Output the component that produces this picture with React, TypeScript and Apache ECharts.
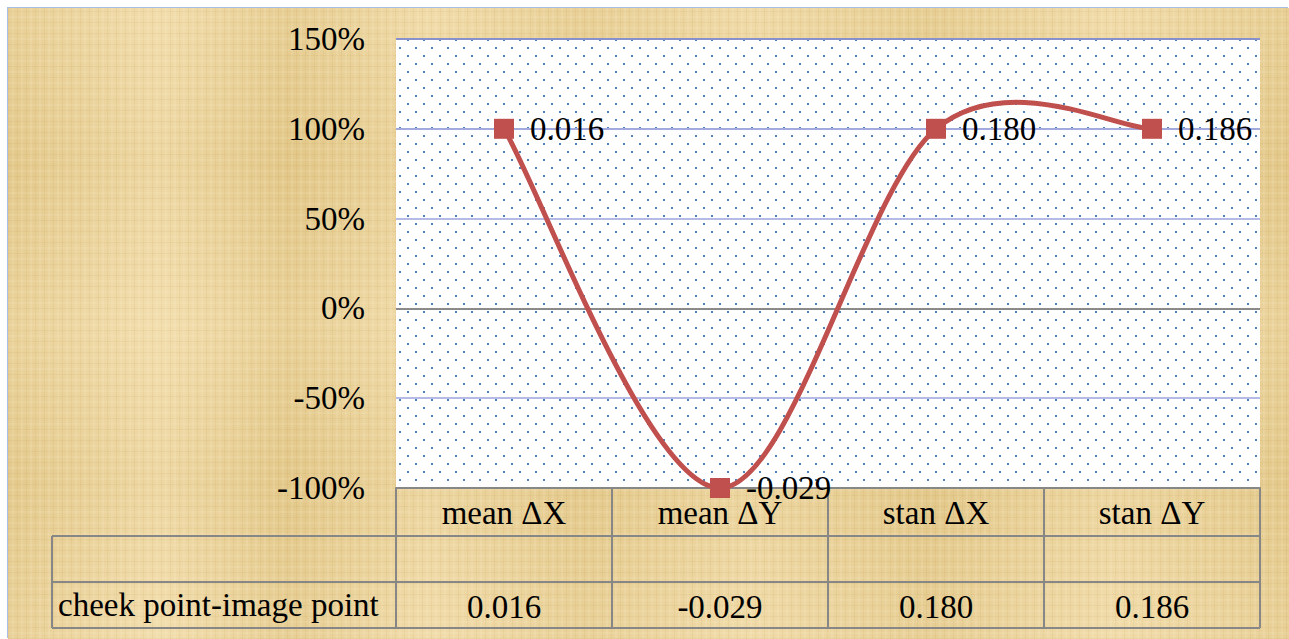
import React, { useEffect, useRef } from "react";
import * as echarts from "echarts";

// Category names shown in the data table row under the plot
const categories = ["mean ΔX", "mean ΔY", "stan ΔX", "stan ΔY"];
// Raw differences, shown as point labels and in the table
const values = [0.016, -0.029, 0.18, 0.186];
// Series name, shown in the table's left column
const seriesName = "cheek point-image point";
// Value-axis ticks (percent of total, 100% stacked)
const yTicks = [-1, -0.5, 0, 0.5, 1, 1.5];

const FONT = '"Liberation Serif", "Times New Roman", serif';
const FS = 33;
const LINE_COLOR = "#c0504d";

// Grid geometry
const GRID_LEFT = 396;
const GRID_TOP = 39;
const GRID_W = 864;
const GRID_H = 449;
const W = 1289;
const H = 639;

const dotPattern =
  "url(\"data:image/svg+xml,%3Csvg xmlns='http://www.w3.org/2000/svg' width='16' height='16'%3E%3Crect x='11' y='0' width='2' height='2' fill='%234f81bd'/%3E%3Crect x='3' y='8' width='2' height='2' fill='%234f81bd'/%3E%3C/svg%3E\")";

const parchment: React.CSSProperties = {
  position: "absolute",
  left: 8,
  top: 8,
  width: W - 8,
  height: H - 8,
  boxShadow: "-1px -1px 0 0 #a9bfe4",
  backgroundColor: "#ebd39c",
  backgroundImage: [
    "repeating-linear-gradient(90deg, rgba(160,120,40,0.08) 0px, rgba(160,120,40,0.08) 1px, transparent 1px, transparent 4px, rgba(255,246,220,0.12) 4px, rgba(255,246,220,0.12) 6px, transparent 6px, transparent 9px)",
    "repeating-linear-gradient(0deg, rgba(160,120,40,0.07) 0px, rgba(160,120,40,0.07) 1px, transparent 1px, transparent 5px, rgba(255,246,220,0.10) 5px, rgba(255,246,220,0.10) 7px, transparent 7px, transparent 11px)",
    "linear-gradient(90deg, rgba(200,165,80,0.12) 0%, rgba(255,240,205,0.26) 12%, rgba(200,165,80,0.16) 22%, rgba(255,240,205,0.2) 33%, rgba(200,165,80,0.12) 45%, rgba(255,240,205,0.16) 58%, rgba(200,165,80,0.16) 72%, rgba(255,240,205,0.2) 86%, rgba(200,165,80,0.14) 100%)",
    "linear-gradient(0deg, rgba(255,240,205,0.12) 0%, rgba(200,165,80,0.10) 25%, rgba(255,240,205,0.16) 50%, rgba(200,165,80,0.12) 75%, rgba(255,240,205,0.1) 100%)",
  ].join(","),
};

// Smooth curve through pixel points: cubic Bézier with Catmull-Rom style handles (1/6 tension)
function smoothPath(pts: number[][]): string {
  const n = pts.length;
  let d = `M${pts[0][0]},${pts[0][1]}`;
  for (let i = 0; i < n - 1; i++) {
    const p0 = pts[Math.max(i - 1, 0)];
    const p1 = pts[i];
    const p2 = pts[i + 1];
    const p3 = pts[Math.min(i + 2, n - 1)];
    const c1x = p1[0] + (p2[0] - p0[0]) / 6;
    const c1y = p1[1] + (p2[1] - p0[1]) / 6;
    const c2x = p2[0] - (p3[0] - p1[0]) / 6;
    const c2y = p2[1] - (p3[1] - p1[1]) / 6;
    d += ` C${c1x},${c1y} ${c2x},${c2y} ${p2[0]},${p2[1]}`;
  }
  return d;
}

export default function App() {
  const ref = useRef<HTMLDivElement>(null);

  useEffect(() => {
    if (!ref.current) return;
    const chart = echarts.init(ref.current, undefined, { renderer: "svg" });

    // Percent-stacked single series: each point is its share of the category total
    const shares = values.map((v) => v / Math.abs(v));
    const gridColors = ["#878787", "#b3bbe6", "#8a8a8a", "#b3bbe6", "#a2aadd", "#8891cb"];

    const tableLine = "#878787";
    const rowY1 = GRID_TOP + GRID_H + 48;
    const rowY2 = rowY1 + 46;
    const rowY3 = rowY2 + 46;
    const tableLeft = 52;
    const tableRight = GRID_LEFT + GRID_W;

    chart.setOption({
      animation: false,
      backgroundColor: "transparent",
      grid: {
        left: GRID_LEFT,
        top: GRID_TOP,
        width: GRID_W,
        height: GRID_H,
        containLabel: false,
      },
      xAxis: [
        {
          type: "category",
          data: categories,
          boundaryGap: true,
          axisLine: { show: true, onZero: false, lineStyle: { color: tableLine, width: 2 } },
          axisTick: {
            show: true,
            alignWithLabel: false,
            length: rowY3 - (GRID_TOP + GRID_H),
            lineStyle: { color: tableLine, width: 2 },
          },
          axisLabel: { margin: 8, color: "#000", fontFamily: FONT, fontSize: FS },
          splitLine: { show: false },
        },
        {
          type: "category",
          data: categories,
          position: "bottom",
          offset: rowY2 - (GRID_TOP + GRID_H),
          axisLine: { show: false, onZero: false },
          axisTick: { show: false },
          axisLabel: {
            margin: 8,
            color: "#000",
            fontFamily: FONT,
            fontSize: FS,
            formatter: (_: string, i: number) => values[i].toFixed(3),
          },
        },
      ],
      yAxis: {
        type: "value",
        min: yTicks[0],
        max: yTicks[yTicks.length - 1],
        interval: 0.5,
        axisLine: { show: false },
        axisTick: { show: false },
        axisLabel: {
          margin: 31,
          color: "#000",
          fontFamily: FONT,
          fontSize: FS,
          formatter: (v: number) => `${Math.round(v * 100)}%`,
        },
        splitLine: { show: true, lineStyle: { color: gridColors, width: 2 } },
      },
      series: [
        {
          // smoothed connecting curve, built from the axis coordinates of each point
          type: "custom",
          name: seriesName + " curve",
          data: shares.map((v, i) => [i, v]),
          silent: true,
          z: 4,
          renderItem: (params: any, api: any) => {
            if (params.dataIndex !== 0) return null;
            const pts = shares.map((v, i) => api.coord([i, v]));
            return {
              type: "path",
              shape: { pathData: smoothPath(pts) },
              style: { stroke: LINE_COLOR, lineWidth: 5, fill: "none", lineJoin: "round" },
            };
          },
        },
        {
          type: "line",
          name: seriesName,
          data: shares,
          symbol: "rect",
          symbolSize: 20,
          itemStyle: { color: LINE_COLOR },
          lineStyle: { width: 0, opacity: 0 },
          label: {
            show: true,
            position: "right",
            distance: 16,
            color: "#000",
            fontFamily: FONT,
            fontSize: FS,
            formatter: (p: any) => values[p.dataIndex].toFixed(3),
          },
          z: 5,
        },
      ],
      graphic: [
        {
          type: "line",
          shape: { x1: tableLeft, y1: rowY1, x2: tableRight, y2: rowY1 },
          style: { stroke: tableLine, lineWidth: 2 },
        },
        {
          type: "line",
          shape: { x1: tableLeft, y1: rowY2, x2: tableRight, y2: rowY2 },
          style: { stroke: tableLine, lineWidth: 2 },
        },
        {
          type: "line",
          shape: { x1: tableLeft, y1: rowY3, x2: tableRight, y2: rowY3 },
          style: { stroke: tableLine, lineWidth: 2 },
        },
        {
          type: "line",
          shape: { x1: tableLeft, y1: rowY1, x2: tableLeft, y2: rowY3 },
          style: { stroke: tableLine, lineWidth: 2 },
        },
        {
          type: "text",
          x: tableLeft + 6,
          y: (rowY2 + rowY3) / 2,
          style: {
            text: seriesName,
            fill: "#000",
            fontFamily: FONT,
            fontSize: FS,
            align: "left",
            verticalAlign: "middle",
          },
        },
      ],
    });

    return () => chart.dispose();
  }, []);

  return (
    <div style={{ position: "absolute", left: 0, top: 0, width: W, height: H, background: "#fff", overflow: "hidden" }}>
      <div style={parchment} />
      <div
        style={{
          position: "absolute",
          left: GRID_LEFT,
          top: GRID_TOP,
          width: GRID_W,
          height: GRID_H,
          backgroundColor: "#fff",
          backgroundImage: dotPattern,
          backgroundRepeat: "repeat",
        }}
      />
      <div ref={ref} style={{ position: "absolute", left: 0, top: 0, width: W, height: H }} />
    </div>
  );
}
